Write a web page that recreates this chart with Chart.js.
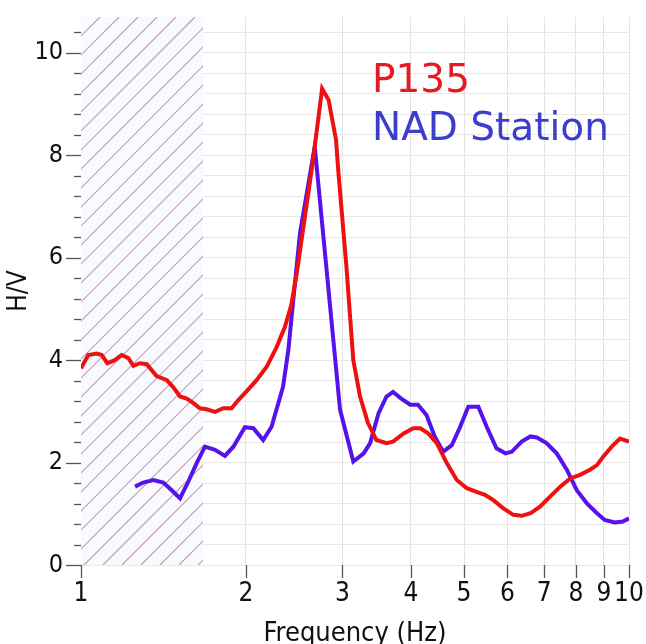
<!DOCTYPE html>
<html>
<head>
<meta charset="utf-8">
<script src="https://cdn.jsdelivr.net/npm/chart.js@4.4.1/dist/chart.umd.min.js"></script>
<style>
  html, body { margin: 0; padding: 0; background: #fff; }
  #wrap { width: 646px; height: 644px; }
</style>
</head>
<body>
<div id="wrap"><canvas id="hv"></canvas></div>
<script>
// H/V spectral ratio curves
const freqP135 = [1.000, 1.031, 1.068, 1.091, 1.117, 1.153, 1.186, 1.220, 1.246, 1.281, 1.318, 1.374, 1.434, 1.474,
  1.516, 1.559, 1.604, 1.648, 1.695, 1.756, 1.818, 1.883, 1.937, 2.005, 2.091, 2.182, 2.276, 2.356, 2.420, 2.476,
  2.647, 2.754, 2.830, 2.920, 2.950, 3.050, 3.100, 3.140, 3.23, 3.34, 3.46, 3.61, 3.71, 3.88, 4.04, 4.16, 4.30,
  4.46, 4.65, 4.85, 5.06, 5.27, 5.46, 5.65, 5.89, 6.15, 6.37, 6.61, 6.88, 7.17, 7.49, 7.81, 8.14, 8.49, 8.74,
  8.98, 9.30, 9.63, 10.0];
const hvP135 = [3.84, 4.10, 4.13, 4.10, 3.94, 4.00, 4.10, 4.04, 3.89, 3.94, 3.92, 3.69, 3.61, 3.47,
  3.29, 3.25, 3.16, 3.06, 3.04, 2.99, 3.06, 3.06, 3.22, 3.39, 3.61, 3.87, 4.26, 4.65, 5.08, 5.70,
  7.85, 9.30, 9.08, 8.30, 7.65, 5.83, 4.80, 4.00, 3.29, 2.77, 2.44, 2.38, 2.41, 2.57, 2.67, 2.67, 2.57,
  2.38, 1.99, 1.66, 1.50, 1.43, 1.37, 1.27, 1.11, 0.98, 0.96, 1.01, 1.14, 1.33, 1.53, 1.69, 1.76, 1.86, 1.95,
  2.12, 2.31, 2.47, 2.41];

const freqNAD = [1.255, 1.299, 1.355, 1.413, 1.464, 1.516, 1.570, 1.626, 1.683, 1.756, 1.831, 1.897, 1.991, 2.063,
  2.150, 2.227, 2.337, 2.390, 2.440, 2.510, 2.670, 2.970, 3.14, 3.28, 3.37, 3.49, 3.61, 3.71, 3.84, 3.99, 4.12,
  4.27, 4.42, 4.58, 4.75, 4.92, 5.09, 5.31, 5.50, 5.73, 5.95, 6.11, 6.37, 6.61, 6.79, 7.07, 7.38, 7.70, 8.03,
  8.38, 8.74, 9.03, 9.42, 9.75, 10.0];
const hvNAD = [1.53, 1.61, 1.66, 1.61, 1.46, 1.30, 1.63, 1.99, 2.31, 2.25, 2.13, 2.31, 2.69, 2.67,
  2.44, 2.70, 3.48, 4.20, 5.18, 6.48, 8.17, 3.03, 2.02, 2.18, 2.38, 2.96, 3.29, 3.38, 3.25, 3.13, 3.13,
  2.93, 2.51, 2.21, 2.34, 2.70, 3.09, 3.09, 2.70, 2.28, 2.18, 2.21, 2.41, 2.51, 2.49, 2.38, 2.18, 1.86, 1.46,
  1.20, 1.01, 0.88, 0.83, 0.85, 0.91];

const xTicks = [1, 2, 3, 4, 5, 6, 7, 8, 9, 10];
const yTicks = [0, 0.4, 0.8, 1.2, 1.6, 2, 2.4, 2.8, 3.2, 3.6, 4, 4.4, 4.8, 5.2, 5.6, 6, 6.4, 6.8, 7.2, 7.6,
  8, 8.4, 8.8, 9.2, 9.6, 10, 10.4];
const yLabels = [0, 2, 4, 6, 8, 10];
const seriesNames = ["P135", "NAD Station"];
const hatchLimit = 1.67; // Hz, left of this is hatched

const axisFont = "'DejaVu Sans Condensed', 'DejaVu Sans', sans-serif";

const toPoints = (xs, ys) => xs.map((x, i) => ({ x, y: ys[i] }));

// hatched low-frequency band
const hatchPlugin = {
  id: "hatch",
  beforeDatasetsDraw(chart) {
    const { ctx, chartArea, scales } = chart;
    const x0 = scales.x.getPixelForValue(1);
    const x1 = scales.x.getPixelForValue(hatchLimit);
    const top = chartArea.top, bottom = chartArea.bottom;
    ctx.save();
    ctx.fillStyle = "#f9fafd";
    ctx.fillRect(x0, top, x1 - x0, bottom - top);
    ctx.beginPath();
    ctx.rect(x0, top, x1 - x0, bottom - top);
    ctx.clip();
    ctx.strokeStyle = "#c39bb3";
    ctx.lineWidth = 1.2;
    const h = bottom - top;
    for (let s = x0 - h; s < x1 + 20; s += 19) {
      ctx.beginPath();
      ctx.moveTo(s, bottom);
      ctx.lineTo(s + h, top);
      ctx.stroke();
    }
    ctx.restore();
  }
};

// tick marks + legend text
const decorPlugin = {
  id: "decor",
  afterDraw(chart) {
    const { ctx, chartArea, scales } = chart;
    ctx.save();
    ctx.strokeStyle = "#555";
    ctx.lineWidth = 1.3;
    yTicks.forEach((v) => {
      const y = Math.round(scales.y.getPixelForValue(v)) + 0.5;
      const len = yLabels.includes(v) ? 15 : 7;
      ctx.beginPath();
      ctx.moveTo(chartArea.left - len, y);
      ctx.lineTo(chartArea.left, y);
      ctx.stroke();
    });
    xTicks.forEach((v) => {
      const x = Math.round(scales.x.getPixelForValue(v)) + 0.5;
      ctx.beginPath();
      ctx.moveTo(x, chartArea.bottom);
      ctx.lineTo(x, chartArea.bottom + 13);
      ctx.stroke();
    });

    ctx.font = "39px 'DejaVu Sans', sans-serif";
    ctx.textBaseline = "alphabetic";
    ctx.textAlign = "left";
    ctx.fillStyle = "#e41b22";
    ctx.fillText(seriesNames[0], 372, 92);
    ctx.fillStyle = "#3d3dcc";
    ctx.fillText(seriesNames[1], 372, 140);
    ctx.restore();
  }
};

new Chart(document.getElementById("hv"), {
  type: "line",
  data: {
    datasets: [
      {
        label: seriesNames[0],
        data: toPoints(freqP135, hvP135),
        borderColor: "#ee1111",
        borderWidth: 4,
        pointRadius: 0,
        tension: 0,
      },
      {
        label: seriesNames[1],
        data: toPoints(freqNAD, hvNAD),
        borderColor: "#5512ea",
        borderWidth: 4,
        pointRadius: 0,
        tension: 0,
      },
    ],
  },
  options: {
    responsive: true,
    maintainAspectRatio: false,
    animation: false,
    layout: { padding: { top: 17, right: 17, left: 0, bottom: 0 } },
    plugins: {
      legend: { display: false },
      tooltip: { enabled: false },
    },
    scales: {
      x: {
        type: "logarithmic",
        min: 1,
        max: 10,
        afterBuildTicks: (scale) => {
          scale.ticks = xTicks.map((v) => ({ value: v }));
        },
        afterFit: (scale) => {
          scale.height = 79;
          scale.paddingLeft = 0;
          scale.paddingRight = 0;
        },
        ticks: {
          autoSkip: false,
          maxRotation: 0,
          padding: 14,
          color: "#111",
          font: { family: axisFont, size: 26 },
          callback: (val) => String(val),
        },
        grid: { color: "#e3e3e3", drawTicks: false },
        border: { display: false },
        title: {
          display: true,
          text: "Frequency (Hz)",
          color: "#111",
          font: { family: axisFont, size: 27 },
          padding: { top: 0, bottom: -6 },
        },
      },
      y: {
        min: 0,
        max: 10.7,
        afterBuildTicks: (scale) => {
          scale.ticks = yTicks.map((v) => ({ value: v }));
        },
        afterFit: (scale) => {
          scale.width = 81;
          scale.paddingTop = 0;
          scale.paddingBottom = 0;
        },
        ticks: {
          autoSkip: false,
          padding: 18,
          color: "#111",
          font: { family: axisFont, size: 25 },
          callback: (val) => (yLabels.includes(val) ? String(val) : ""),
        },
        grid: { color: "#e8e8e8", drawTicks: false },
        border: { display: false },
        title: {
          display: true,
          text: "H/V",
          color: "#111",
          font: { family: axisFont, size: 26 },
          padding: { top: 4, bottom: 0 },
        },
      },
    },
  },
  plugins: [hatchPlugin, decorPlugin],
});
</script>
</body>
</html>
